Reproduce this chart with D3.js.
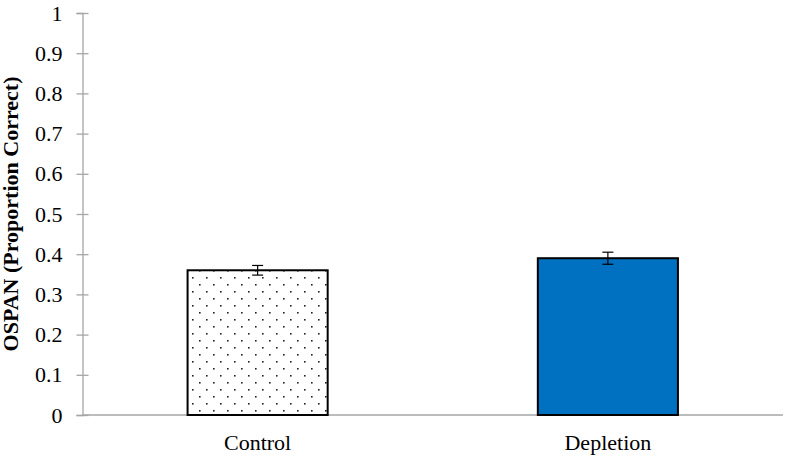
<!DOCTYPE html>
<html>
<head>
<meta charset="utf-8">
<script src="https://cdn.jsdelivr.net/npm/d3@7"></script>
<style>
  body { margin: 0; background: #fff; }
  svg { display: block; }
</style>
</head>
<body>
<svg id="chart" width="789" height="460"></svg>
<script>
// data
var categories = ["Control", "Depletion"];
var means = [0.36, 0.39];
var errors = [0.012, 0.015];
var yTicks = [0, 0.1, 0.2, 0.3, 0.4, 0.5, 0.6, 0.7, 0.8, 0.9, 1];
var yTitle = "OSPAN (Proportion Correct)";

var plotLeft = 82.5, plotRight = 783, plotTop = 13, plotBottom = 415;
var font = "'Liberation Serif', 'Times New Roman', serif";

var svg = d3.select("#chart");

var defs = svg.append("defs");
var pat = defs.append("pattern")
    .attr("id", "dots")
    .attr("patternUnits", "userSpaceOnUse")
    .attr("width", 14)
    .attr("height", 14);
pat.append("rect").attr("width", 14).attr("height", 14).attr("fill", "#fff");
pat.append("rect").attr("x", 3).attr("y", 4).attr("width", 1.6).attr("height", 1.6).attr("fill", "#222");
pat.append("rect").attr("x", 10).attr("y", 11).attr("width", 1.6).attr("height", 1.6).attr("fill", "#222");

var x = d3.scaleBand()
    .domain(categories)
    .range([plotLeft, plotRight])
    .paddingInner(0.6)
    .paddingOuter(0.3);

var y = d3.scaleLinear()
    .domain([0, 1])
    .range([plotBottom, plotTop]);

// y axis
var yAxis = svg.append("g")
    .attr("transform", `translate(${plotLeft},0)`)
    .call(d3.axisLeft(y).tickValues(yTicks).tickFormat(d3.format("")).tickSize(6).tickPadding(14));
yAxis.select(".domain").attr("stroke", "#a6a6a6").attr("stroke-width", 1.3);
yAxis.selectAll(".tick line")
    .attr("stroke", "#a6a6a6")
    .attr("stroke-width", 1.3)
    .attr("x1", -6).attr("x2", 6);
yAxis.selectAll(".tick text")
    .style("font-family", font)
    .style("font-size", "22px")
    .attr("fill", "#000");

// x axis line (no ticks)
svg.append("line")
    .attr("x1", plotLeft).attr("x2", plotRight)
    .attr("y1", plotBottom).attr("y2", plotBottom)
    .attr("stroke", "#a6a6a6")
    .attr("stroke-width", 1.3);

// bars
svg.append("g")
    .selectAll("rect")
    .data(categories)
    .join("rect")
    .attr("x", d => x(d))
    .attr("y", (d, i) => y(means[i]))
    .attr("width", x.bandwidth())
    .attr("height", (d, i) => y(0) - y(means[i]))
    .attr("fill", (d, i) => i === 0 ? "url(#dots)" : "#0070c0")
    .attr("stroke", "#000")
    .attr("stroke-width", 2);

// error bars
var eb = svg.append("g")
    .selectAll("g")
    .data(categories)
    .join("g")
    .attr("stroke", "#000")
    .attr("stroke-width", 1.2);
eb.append("line")
    .attr("x1", d => x(d) + x.bandwidth() / 2)
    .attr("x2", d => x(d) + x.bandwidth() / 2)
    .attr("y1", (d, i) => y(means[i] + errors[i]))
    .attr("y2", (d, i) => y(means[i] - errors[i]));
eb.append("line")
    .attr("x1", d => x(d) + x.bandwidth() / 2 - 5.5)
    .attr("x2", d => x(d) + x.bandwidth() / 2 + 5.5)
    .attr("y1", (d, i) => y(means[i] + errors[i]))
    .attr("y2", (d, i) => y(means[i] + errors[i]));
eb.append("line")
    .attr("x1", d => x(d) + x.bandwidth() / 2 - 5.5)
    .attr("x2", d => x(d) + x.bandwidth() / 2 + 5.5)
    .attr("y1", (d, i) => y(means[i] - errors[i]))
    .attr("y2", (d, i) => y(means[i] - errors[i]));

// category labels
svg.append("g")
    .selectAll("text")
    .data(categories)
    .join("text")
    .attr("x", d => x(d) + x.bandwidth() / 2)
    .attr("y", 450)
    .attr("text-anchor", "middle")
    .style("font-family", font)
    .style("font-size", "22px")
    .text(d => d);

// y title
svg.append("text")
    .attr("transform", `translate(18,${(plotTop + plotBottom) / 2}) rotate(-90)`)
    .attr("text-anchor", "middle")
    .style("font-family", font)
    .style("font-size", "22px")
    .style("font-weight", "bold")
    .text(yTitle);
</script>
</body>
</html>
